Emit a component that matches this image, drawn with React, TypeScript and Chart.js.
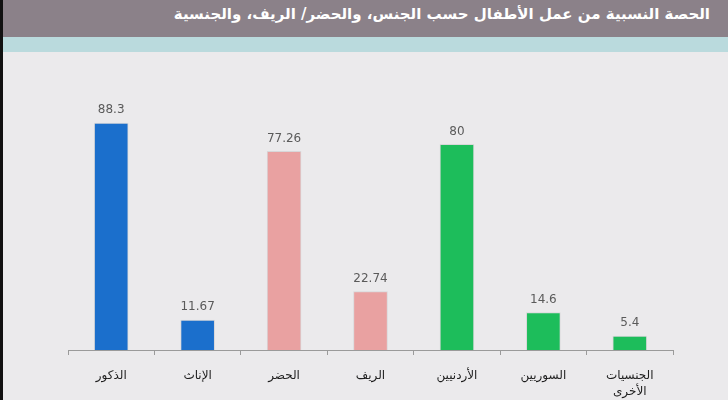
import React, { useEffect, useRef } from "react";
import { Chart, registerables } from "chart.js";

Chart.register(...registerables);

const categories: (string | string[])[] = [
  "الذكور",
  "الإناث",
  "الحضر",
  "الريف",
  "الأردنيين",
  "السوريين",
  ["الجنسيات", "الأخرى"],
];
const values: number[] = [88.3, 11.67, 77.26, 22.74, 80, 14.6, 5.4];
const valueLabels: string[] = ["88.3", "11.67", "77.26", "22.74", "80", "14.6", "5.4"];
const barColors: string[] = ["#1b6fcc", "#1b6fcc", "#e9a1a1", "#e9a1a1", "#1dbd5b", "#1dbd5b", "#1dbd5b"];
const title = "الحصة النسبية من عمل الأطفال حسب الجنس، والحضر/ الريف، والجنسية";

const valueLabelPlugin = {
  id: "valueLabels",
  afterDatasetsDraw(chart: any) {
    const { ctx } = chart;
    const meta = chart.getDatasetMeta(0);
    ctx.save();
    ctx.font = "12px 'DejaVu Sans', sans-serif";
    ctx.fillStyle = "#5a5a5a";
    ctx.textAlign = "center";
    ctx.textBaseline = "bottom";
    meta.data.forEach((bar: any, i: number) => {
      ctx.fillText(valueLabels[i], bar.x, bar.y - 7);
    });
    ctx.restore();
  },
};

export default function App() {
  const ref = useRef<HTMLCanvasElement>(null);
  useEffect(() => {
    document.body.style.margin = "0";
    const chart = new Chart(ref.current!, {
      type: "bar",
      data: {
        labels: categories,
        datasets: [
          {
            data: values,
            backgroundColor: barColors,
            borderColor: barColors.map(() => "rgba(0,0,0,0.08)"),
            borderWidth: 1,
            barThickness: 34,
          },
        ],
      },
      options: {
        animation: false,
        responsive: false,
        maintainAspectRatio: false,
        layout: { padding: { left: 68, right: 55, top: 93, bottom: 0 } },
        plugins: { legend: { display: false }, tooltip: { enabled: false } },
        scales: {
          y: { display: false, min: 0, max: 100 },
          x: {
            afterFit: (axis: any) => {
              axis.height = 50;
            },
            grid: {
              display: true,
              drawOnChartArea: false,
              drawTicks: true,
              tickLength: 5,
              color: "#9a9a9a",
              offset: true,
            },
            border: { display: true, color: "#9a9a9a", width: 1 },
            ticks: {
              color: "#1e1e1e",
              padding: 12,
              font: { family: "'DejaVu Sans', sans-serif", size: 12, lineHeight: 1.4 },
              maxRotation: 0,
              autoSkip: false,
            },
          },
        },
      },
      plugins: [valueLabelPlugin],
    });
    return () => chart.destroy();
  }, []);

  return (
    <div style={{ position: "relative", width: 728, height: 400, background: "#ebeaec", overflow: "hidden" }}>
      <div style={{ position: "absolute", left: 0, top: 0, width: 728, height: 37, background: "#8b8189" }} />
      <div style={{ position: "absolute", left: 0, top: 37, width: 728, height: 15, background: "#badadd" }} />
      <div style={{ position: "absolute", left: 0, top: 0, width: 3, height: 400, background: "#111" }} />
      <div
        dir="rtl"
        style={{
          position: "absolute",
          right: 18,
          top: 5,
          color: "#ffffff",
          fontFamily: "'DejaVu Sans', sans-serif",
          fontWeight: "bold",
          fontSize: 15,
          whiteSpace: "nowrap",
        }}
      >
        {title}
      </div>
      <canvas ref={ref} width={728} height={400} style={{ position: "absolute", left: 0, top: 0 }} />
    </div>
  );
}
